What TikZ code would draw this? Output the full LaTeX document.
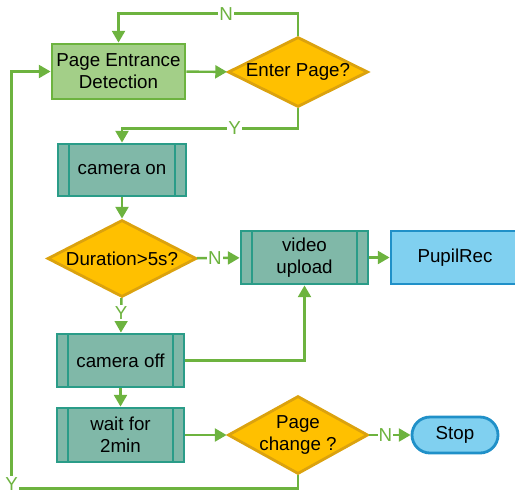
\documentclass[tikz,border=0pt]{standalone}
\usepackage{fontspec}
\setmainfont{Liberation Sans}
\usetikzlibrary{arrows.meta,positioning,shapes.geometric}
\definecolor{linegreen}{HTML}{6DB33F}
\definecolor{boxgreen}{HTML}{A3CF88}
\definecolor{boxgreenline}{HTML}{6DB33F}
\definecolor{decfill}{HTML}{FFC000}
\definecolor{decline}{HTML}{DBA20E}
\definecolor{procfill}{HTML}{80B8A8}
\definecolor{procline}{HTML}{2A9C88}
\definecolor{bluefill}{HTML}{80D0F0}
\definecolor{blueline}{HTML}{2090C8}

\begin{document}
\begin{tikzpicture}[x=0.03cm, y=-0.03cm,
	  every node/.style={font=\fontsize{16}{19}\selectfont, align=center},
	  detect/.style={rectangle, draw=boxgreenline, fill=boxgreen, line width=2.4pt, minimum width=3.99cm, minimum height=1.65cm},
	  decision/.style={diamond, draw=decline, fill=decfill, line width=2.4pt, aspect=2, inner xsep=-0.4cm, inner ysep=0pt},
	  process/.style={rectangle, draw=procline, fill=procfill, line width=2.4pt, minimum width=3.81cm, minimum height=1.59cm,
	    path picture={
	      \draw[procline, line width=2.4pt]
	        ([xshift=0.33cm]path picture bounding box.north west) -- ([xshift=0.33cm]path picture bounding box.south west)
	        ([xshift=-0.33cm]path picture bounding box.north east) -- ([xshift=-0.33cm]path picture bounding box.south east);
	    }},
	  terminal/.style={rectangle, draw=blueline, fill=bluefill, line width=2.4pt},
	  flow/.style={draw=linegreen, line width=2.1pt, -{Triangle[length=10pt,width=11pt]}},
	  lbl/.style={fill=white, text=linegreen, inner sep=1pt}]
	  \useasboundingbox (0,0) rectangle (515,493);

	  % nodes
	  \node[detect] (ped) at (118.5,71.5) {Page Entrance\\Detection};
	  \node[decision, minimum width=4.2cm, minimum height=2.1cm] (enter) at (298,72) {Enter Page?};
	  \node[process, minimum width=3.84cm, minimum height=1.56cm] (camon) at (122,170) {camera on};
	  \node[decision, minimum width=4.47cm, minimum height=2.31cm] (dur) at (122,258.5) {Duration>5s?};
	  \node[process] (video) at (304.5,257.5) {video\\upload};
	  \node[terminal, minimum width=3.84cm, minimum height=1.59cm] (pupil) at (455,257.5) {PupilRec};
	  \node[process] (camoff) at (120.5,360.5) {camera off};
	  \node[process, minimum height=1.62cm] (wait) at (120.5,435) {wait for\\2min};
	  \node[decision, minimum width=4.2cm, minimum height=2.34cm] (chg) at (298,435) {Page\\change ?};
	  \node[terminal, rounded corners=0.54cm, minimum width=2.58cm, minimum height=1.08cm] (stop) at (455,435) {Stop};

	  % connectors
	  \draw[flow] (ped) -- (enter);
	  \draw[flow] (enter.north) -- ++(0,-22) -| node[lbl, pos=0.2] {N} (ped.north);
	  \draw[flow] (enter.south) -- ++(0,20) -| node[lbl, pos=0.18] {Y} (camon.north);
	  \draw[flow] (camon) -- (dur);
	  \draw[flow] (dur) -- node[lbl, pos=0.42] {N} (video);
	  \draw[flow] (video) -- (pupil);
	  \draw[flow] (dur) -- node[lbl, pos=0.43] {Y} (camoff);
	  \draw[flow] (camoff.east) -| (video.south);
	  \draw[flow] (camoff) -- (wait);
	  \draw[flow] (wait) -- (chg);
	  \draw[flow] (chg) -- node[lbl, pos=0.39] {N} (stop);
	  \draw[flow] (chg.south) -- ++(0,13) -| node[lbl, pos=0.5, yshift=0.13cm] {Y} ([xshift=-1.17cm]ped.west) -- (ped.west);
\end{tikzpicture}
\end{document}
